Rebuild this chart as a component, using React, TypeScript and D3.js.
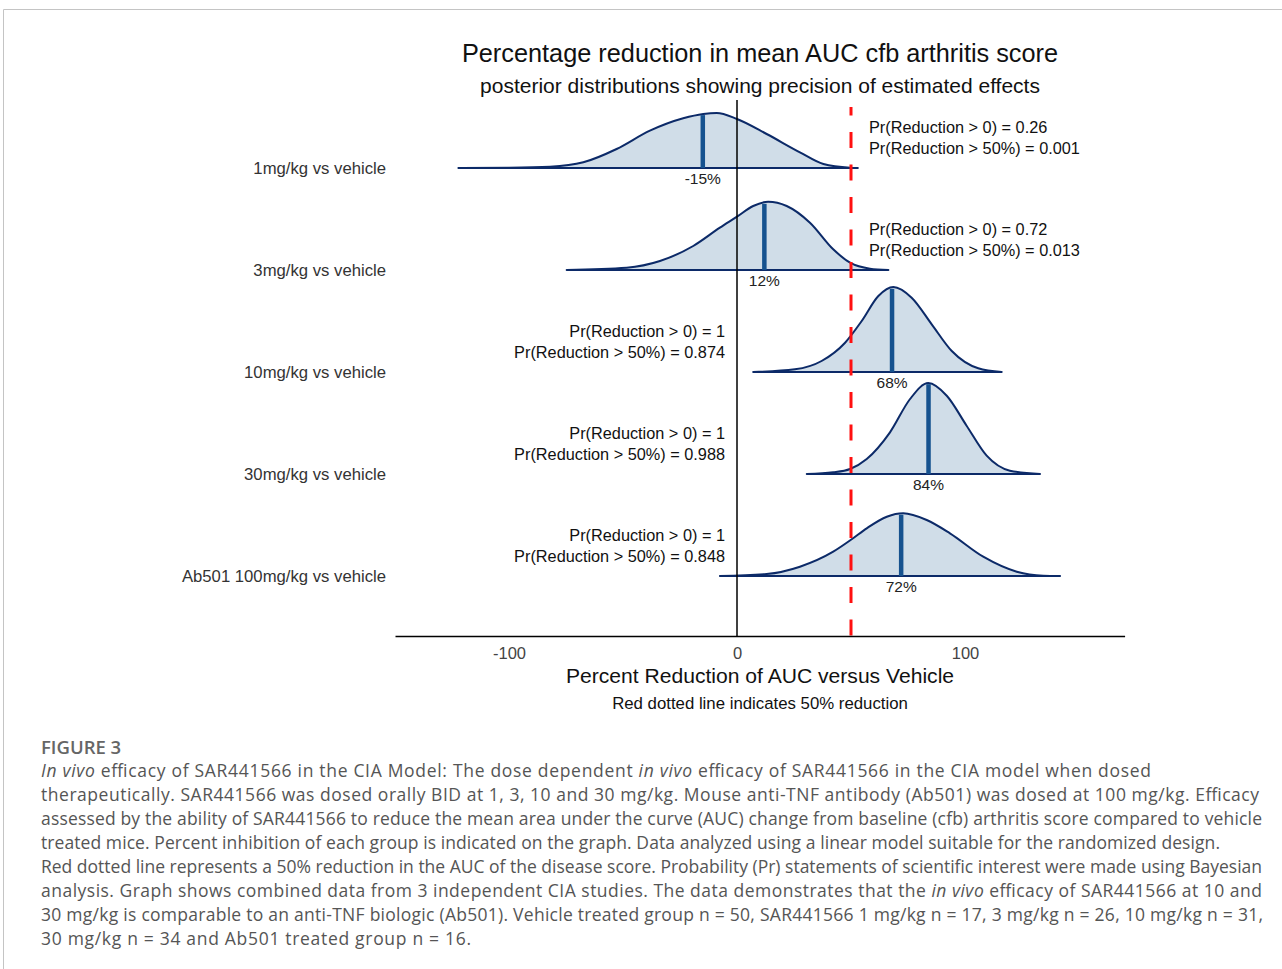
import React, { useRef, useEffect } from 'react';
import * as d3 from 'd3';

const groups = ['1mg/kg vs vehicle', '3mg/kg vs vehicle', '10mg/kg vs vehicle', '30mg/kg vs vehicle', 'Ab501 100mg/kg vs vehicle'];
const means = [-15, 12, 68, 84, 72];
const prAbove0 = ['0.26', '0.72', '1', '1', '1'];
const prAbove50 = ['0.001', '0.013', '0.874', '0.988', '0.848'];
const xTicks = [-100, 0, 100];

// posterior densities: [percent reduction, density]
const dens1mg = [[-122.2, 0], [-100, 0.003], [-82, 0.013], [-67.4, 0.057], [-52.8, 0.19], [-38.2, 0.373], [-23.6, 0.497], [-14.8, 0.54], [-8.9, 0.55], [0, 0.49], [13, 0.34], [27.6, 0.157], [37.9, 0.04], [49.6, 0.003], [53, 0]];
const dens3mg = [[-74.7, 0], [-48.4, 0.023], [-33.8, 0.09], [-19.2, 0.24], [-7.5, 0.423], [0, 0.533], [7.1, 0.64], [13.7, 0.683], [21.8, 0.64], [32, 0.473], [42.2, 0.207], [49.6, 0.073], [58.3, 0.013], [66.4, 0]];
const dens10mg = [[7.1, 0], [25.4, 0.027], [37.1, 0.11], [47.4, 0.293], [54.7, 0.51], [62, 0.76], [68.6, 0.85], [76.6, 0.743], [85.4, 0.477], [94.2, 0.21], [105.8, 0.037], [116.1, 0]];
const dens30mg = [[30.6, 0], [42.2, 0.017], [49.6, 0.05], [56.9, 0.15], [67.1, 0.417], [75.9, 0.75], [83.9, 0.91], [92, 0.783], [100.7, 0.483], [109.5, 0.183], [119.7, 0.033], [132.9, 0]];
const densAb501 = [[-7.5, 0], [13, 0.02], [27.6, 0.093], [42.2, 0.243], [50.3, 0.367], [56.9, 0.477], [65.7, 0.593], [72.9, 0.627], [83.2, 0.56], [93.4, 0.427], [108, 0.193], [122.7, 0.043], [134.3, 0.003], [141.7, 0]];
const densities = [dens1mg, dens3mg, dens10mg, dens30mg, densAb501];

// caption, one entry per line; segments flagged true are italic
const captionLines: [string, boolean][][] = [
  [['In vivo', true], [' efficacy of SAR441566 in the CIA Model: The dose dependent ', false], ['in vivo', true], [' efficacy of SAR441566 in the CIA model when dosed', false]],
  [['therapeutically. SAR441566 was dosed orally BID at 1, 3, 10 and 30 mg/kg. Mouse anti-TNF antibody (Ab501) was dosed at 100 mg/kg. Efficacy', false]],
  [['assessed by the ability of SAR441566 to reduce the mean area under the curve (AUC) change from baseline (cfb) arthritis score compared to vehicle', false]],
  [['treated mice. Percent inhibition of each group is indicated on the graph. Data analyzed using a linear model suitable for the randomized design.', false]],
  [['Red dotted line represents a 50% reduction in the AUC of the disease score. Probability (Pr) statements of scientific interest were made using Bayesian', false]],
  [['analysis. Graph shows combined data from 3 independent CIA studies. The data demonstrates that the ', false], ['in vivo', true], [' efficacy of SAR441566 at 10 and', false]],
  [['30 mg/kg is comparable to an anti-TNF biologic (Ab501). Vehicle treated group n = 50, SAR441566 1 mg/kg n = 17, 3 mg/kg n = 26, 10 mg/kg n = 31,', false]],
  [['30 mg/kg n = 34 and Ab501 treated group n = 16.', false]],
];
// rendered width of each caption line in the page
const captionWidths = [1110, 1218, 1221, 1179, 1221, 1221, 1222, 430];

const W = 1282;
const H = 969;
const chartFont = '"Liberation Sans", Arial, sans-serif';
const captionFont = '"Open Sans", sans-serif';

const App = () => {
  const svgRef = useRef(null);

  useEffect(() => {
    const svg = d3.select(svgRef.current);
    svg.selectAll('*').remove();

    // page frame
    svg.append('path')
      .attr('d', `M3.5,${H} V9.5 H${W}`)
      .attr('fill', 'none')
      .attr('stroke', '#c4c4c4')
      .attr('stroke-width', 1);

    const x = d3.scaleLinear().domain([-150, 170]).range([395, 1124.6]);
    const row = d3.scalePoint().domain(groups).range([168, 576]);
    const h = d3.scaleLinear().domain([0, 1]).range([0, 100]);

    svg.append('text')
      .attr('x', 760).attr('y', 62)
      .attr('text-anchor', 'middle')
      .style('font-family', chartFont).style('font-size', '25.3px').attr('fill', '#111')
      .text('Percentage reduction in mean AUC cfb arthritis score');
    svg.append('text')
      .attr('x', 760).attr('y', 92.5)
      .attr('text-anchor', 'middle')
      .style('font-family', chartFont).style('font-size', '21px').attr('fill', '#111')
      .text('posterior distributions showing precision of estimated effects');

    groups.forEach((g, i) => {
      const base = row(g);
      const dens = densities[i];
      const area = d3.area()
        .x(d => x(d[0]))
        .y0(base)
        .y1(d => base - h(d[1]))
        .curve(d3.curveMonotoneX);

      svg.append('path')
        .datum(dens)
        .attr('d', area)
        .attr('fill', '#d0dde8')
        .attr('stroke', '#0c2a68')
        .attr('stroke-width', 2)
        .attr('stroke-linejoin', 'round');

      // density height at the mean, linear between read points
      const m = means[i];
      let k = 0;
      while (k < dens.length - 2 && dens[k + 1][0] < m) k++;
      const t = (m - dens[k][0]) / (dens[k + 1][0] - dens[k][0]);
      const dm = dens[k][1] + t * (dens[k + 1][1] - dens[k][1]);

      svg.append('line')
        .attr('x1', x(m)).attr('x2', x(m))
        .attr('y1', base).attr('y2', base - h(dm) + 1)
        .attr('stroke', '#16528f')
        .attr('stroke-width', 4.5);

      svg.append('text')
        .attr('x', x(m)).attr('y', base + 15.5)
        .attr('text-anchor', 'middle')
        .style('font-family', chartFont).style('font-size', '15.5px').attr('fill', '#222')
        .text(`${m}%`);

      svg.append('text')
        .attr('x', 386).attr('y', base + 6)
        .attr('text-anchor', 'end')
        .style('font-family', chartFont).style('font-size', '16.7px').attr('fill', '#333')
        .text(g);

      const left = i < 2;
      const pr = svg.append('g')
        .attr('text-anchor', left ? 'start' : 'end')
        .style('font-family', chartFont).style('font-size', '16.3px').attr('fill', '#111');
      pr.append('text')
        .attr('x', left ? 869 : 725).attr('y', base - 35)
        .text(`Pr(Reduction > 0) = ${prAbove0[i]}`);
      pr.append('text')
        .attr('x', left ? 869 : 725).attr('y', base - 14)
        .text(`Pr(Reduction > 50%) = ${prAbove50[i]}`);
    });

    // zero reference line
    svg.append('line')
      .attr('x1', x(0)).attr('x2', x(0))
      .attr('y1', 100).attr('y2', 636)
      .attr('stroke', '#000')
      .attr('stroke-width', 1.5);

    // 50% reduction line
    svg.append('line')
      .attr('x1', x(50)).attr('x2', x(50))
      .attr('y1', 107).attr('y2', 636)
      .attr('stroke', '#ff1010')
      .attr('stroke-width', 3)
      .attr('stroke-dasharray', '16 16.5')
      .attr('stroke-dashoffset', 7.5);

    const axisG = svg.append('g')
      .attr('transform', 'translate(0,636)')
      .call(d3.axisBottom(x).tickValues(xTicks).tickSize(0).tickPadding(11.5).tickFormat(d => String(d)));
    axisG.attr('font-family', chartFont).attr('font-size', 16.5);
    axisG.select('.domain').attr('stroke', '#000').attr('stroke-width', 1.6);
    axisG.selectAll('text').attr('fill', '#444');

    svg.append('text')
      .attr('x', 760).attr('y', 682.5)
      .attr('text-anchor', 'middle')
      .style('font-family', chartFont).style('font-size', '21.1px').attr('fill', '#111')
      .text('Percent Reduction of AUC versus Vehicle');
    svg.append('text')
      .attr('x', 760).attr('y', 709)
      .attr('text-anchor', 'middle')
      .style('font-family', chartFont).style('font-size', '16.8px').attr('fill', '#111')
      .text('Red dotted line indicates 50% reduction');

    // figure caption
    svg.append('text')
      .attr('x', 41).attr('y', 753.5)
      .style('font-family', captionFont).style('font-size', '18.5px').style('font-weight', 600)
      .attr('fill', '#666')
      .text('FIGURE 3');

    captionLines.forEach((segs, li) => {
      const t = svg.append('text')
        .attr('x', 41).attr('y', 777 + li * 24)
        .attr('textLength', captionWidths[li])
        .attr('lengthAdjust', 'spacing')
        .style('font-family', captionFont).style('font-size', '17.5px')
        .attr('fill', '#555');
      segs.forEach(([s, it]) => {
        t.append('tspan').style('font-style', it ? 'italic' : 'normal').text(s);
      });
    });
  }, []);

  return (
    <svg ref={svgRef} width={W} height={H}
      style={{ position: 'absolute', left: 0, top: 0, background: '#fff' }} />
  );
};

export default App;
